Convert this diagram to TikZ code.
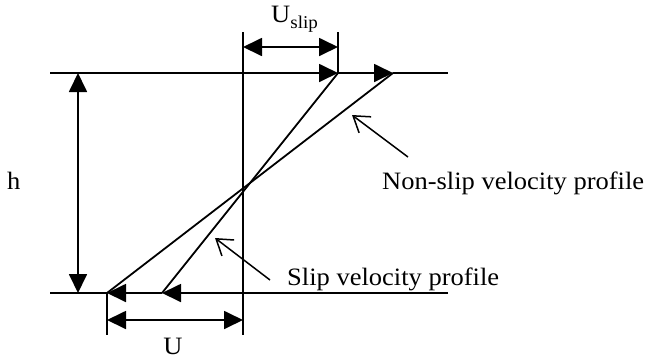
\documentclass[tikz,border=0pt]{standalone}
\usepackage{fontspec}
\setmainfont{Liberation Serif}
\usetikzlibrary{arrows.meta}
\begin{document}
\begin{tikzpicture}[x=1pt,y=-1pt,
  ln/.style={line width=1.8pt},
  dimarrow/.style={ln,{Triangle[length=19pt,width=18pt]}-{Triangle[length=19pt,width=18pt]}},
  headend/.style={ln,-{Triangle[length=19pt,width=18pt]}},
  leader/.style={line width=1.5pt,-{Straight Barb[length=15pt,width=20pt,line width=1.5pt]}},
  lbl/.style={inner sep=0pt,anchor=base west,font=\fontsize{25}{28}\selectfont,xscale=1.06}]
\useasboundingbox (0,0) rectangle (649,360);
% named points
\coordinate (TL) at (50,73);
\coordinate (TR) at (448,73);
\coordinate (BL) at (50,293);
\coordinate (BR) at (448,293);
\coordinate (TS) at (338,73);
\coordinate (TN) at (393,73);
\coordinate (BS) at (162,293);
\coordinate (BN) at (107,293);
\coordinate (Vt) at (243,32);
\coordinate (Vb) at (243,335);
% walls
\draw[headend] (TL) -- (TS);
\draw[headend] (TS) -- (TN);
\draw[ln] (TN) -- (TR);
\draw[headend] (BR) -- (BS);
\draw[headend] (BS) -- (BN);
\draw[ln] (BN) -- (BL);
% centre vertical line
\draw[ln] (Vt) -- (Vb);
% profiles
\draw[ln] (TS) -- (BS);
\draw[ln] (TN) -- (BN);
% h dimension
\coordinate (Ht) at (78,73);
\coordinate (Hb) at (78,293);
\draw[dimarrow] (Ht) -- (Hb);
\node[lbl] (h) at (7,189) {h};
% Uslip dimension
\coordinate (St) at (338,32);
\coordinate (Sa) at (243,47);
\coordinate (Sb) at (338,47);
\draw[ln] (St) -- (TS);
\draw[dimarrow] (Sa) -- (Sb);
\node[lbl] (uslip) at (271,22) {U\raisebox{-6pt}{\fontsize{18}{20}\selectfont slip}};
% U dimension
\coordinate (Ub) at (107,335);
\coordinate (Ua) at (107,320);
\coordinate (Uc) at (243,320);
\draw[ln] (BN) -- (Ub);
\draw[dimarrow] (Ua) -- (Uc);
\node[inner sep=0pt,anchor=base,font=\fontsize{25}{28}\selectfont,xscale=1.06] (u) at (173,354) {U};
% labels with leaders
\node[lbl] (nonslip) at (382,189) {Non-slip velocity profile};
\node[lbl] (slip) at (287,285) {Slip velocity profile};
\coordinate (Ns) at (408,157);
\coordinate (Ne) at (352,115);
\coordinate (Ss) at (270,280);
\coordinate (Se) at (215,238);
\draw[leader] (Ns) -- (Ne);
\draw[leader] (Ss) -- (Se);
\end{tikzpicture}
\end{document}
